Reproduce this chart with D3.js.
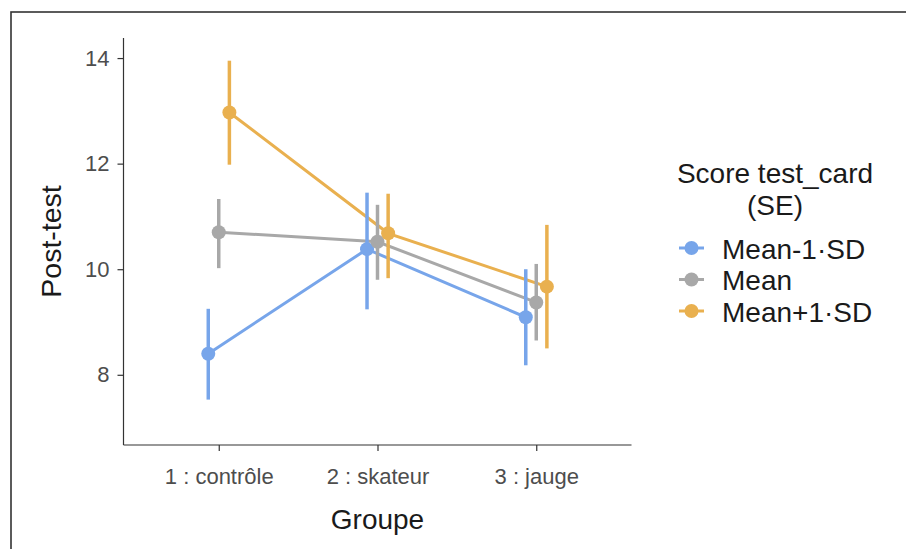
<!DOCTYPE html>
<html>
<head>
<meta charset="utf-8">
<script src="https://cdn.jsdelivr.net/npm/d3@7"></script>
<style>
  html, body { margin: 0; padding: 0; background: #fff; }
  svg { display: block; font-family: "Liberation Sans", Arial, sans-serif; }
</style>
</head>
<body>
<svg id="chart" width="906" height="549"></svg>
<script>
// ---- data ----
const categories = ["1 : contrôle", "2 : skateur", "3 : jauge"];
const seriesNames = ["Mean-1·SD", "Mean", "Mean+1·SD"];
const seriesColors = ["#77A5EA", "#A8A8A8", "#E9B04F"];
const seriesDodge = [-0.066, 0, 0.067];
const meanLow = [8.40, 10.38, 9.09];
const meanMid = [10.70, 10.52, 9.37];
const meanHigh = [12.97, 10.68, 9.67];
const loLow = [7.53, 9.24, 8.18];
const loMid = [10.02, 9.80, 8.65];
const loHigh = [11.98, 9.83, 8.50];
const hiLow = [9.25, 11.45, 10.00];
const hiMid = [11.33, 11.22, 10.10];
const hiHigh = [13.95, 11.43, 10.84];
const yTicks = [8, 10, 12, 14];
const xTickValues = [1, 2, 3];

const seriesMeans = [meanLow, meanMid, meanHigh];
const seriesLo = [loLow, loMid, loHigh];
const seriesHi = [hiLow, hiMid, hiHigh];

const series = seriesNames.map((name, s) => ({
  name, color: seriesColors[s],
  pts: categories.map((c, i) => ({
    x: xTickValues[i] + seriesDodge[s],
    y: seriesMeans[s][i], lo: seriesLo[s][i], hi: seriesHi[s][i]
  }))
}));

// ---- layout ----
const svg = d3.select("#chart");
const x = d3.scaleLinear().domain([0.4, 3.6]).range([123.5, 631.5]);
const y = d3.scaleLinear().domain([6.67, 14.38]).range([445, 38]);

// outer border
svg.append("rect").attr("x", 11).attr("y", 12).attr("width", 1000).attr("height", 1000)
  .attr("fill", "none").attr("stroke", "#333").attr("stroke-width", 1.6);

const axisColor = "#333333";
const tickText = "#4D4D4D";

// y axis
const gy = svg.append("g").attr("transform", "translate(123.5,0)")
  .call(d3.axisLeft(y).tickValues(yTicks).tickSize(6).tickPadding(8).tickFormat(d3.format("d")));
// x axis
const gx = svg.append("g").attr("transform", "translate(0,445)")
  .call(d3.axisBottom(x).tickValues(xTickValues).tickSize(6).tickPadding(17).tickFormat((d, i) => categories[i]));

[gy, gx].forEach(g => {
  g.select(".domain").attr("stroke", axisColor).attr("stroke-width", 1.2);
  g.selectAll(".tick line").attr("stroke", axisColor).attr("stroke-width", 1.2);
  g.selectAll(".tick text").attr("fill", tickText).style("font-size", "22px")
    .style("font-family", "'Liberation Sans', Arial, sans-serif");
});
gx.select(".domain").attr("d", `M${x.range()[0]},0H${x.range()[1]}`);
gy.select(".domain").attr("d", `M0,${y.range()[1]}V${y.range()[0]}`);

// axis titles
svg.append("text").attr("x", (x.range()[0] + x.range()[1]) / 2).attr("y", 529).attr("text-anchor", "middle")
  .attr("fill", "#1A1A1A").style("font-size", "28px").text("Groupe");
svg.append("text").attr("transform", "translate(61,241.5) rotate(-90)").attr("text-anchor", "middle")
  .attr("fill", "#1A1A1A").style("font-size", "28.5px").text("Post-test");

// marks
const line = d3.line().x(d => x(d.x)).y(d => y(d.y));
const plot = svg.append("g");
series.forEach(s => {
  plot.append("path").datum(s.pts).attr("d", line).attr("fill", "none")
    .attr("stroke", s.color).attr("stroke-width", 3);
});
series.forEach(s => {
  plot.selectAll(null).data(s.pts).enter().append("line")
    .attr("x1", d => x(d.x)).attr("x2", d => x(d.x))
    .attr("y1", d => y(d.lo)).attr("y2", d => y(d.hi))
    .attr("stroke", s.color).attr("stroke-width", 3.5);
});
series.forEach(s => {
  plot.selectAll(null).data(s.pts).enter().append("circle")
    .attr("cx", d => x(d.x)).attr("cy", d => y(d.y)).attr("r", 7)
    .attr("fill", s.color);
});

// legend
const lg = svg.append("g");
lg.append("text").attr("x", 775).attr("y", 183).attr("text-anchor", "middle")
  .attr("fill", "#1A1A1A").style("font-size", "28px").text("Score test_card");
lg.append("text").attr("x", 775).attr("y", 215).attr("text-anchor", "middle")
  .attr("fill", "#1A1A1A").style("font-size", "28px").text("(SE)");
const ly = d3.scalePoint().domain(seriesNames).range([248, 311]);
seriesNames.forEach((n, i) => {
  const cy = ly(n);
  lg.append("line").attr("x1", 679).attr("x2", 704).attr("y1", cy).attr("y2", cy)
    .attr("stroke", seriesColors[i]).attr("stroke-width", 3);
  lg.append("circle").attr("cx", 691.5).attr("cy", cy).attr("r", 7).attr("fill", seriesColors[i]);
  lg.append("text").attr("x", 722).attr("y", cy + 10.5).attr("fill", "#1A1A1A")
    .style("font-size", "28px").text(n);
});
</script>
</body>
</html>
